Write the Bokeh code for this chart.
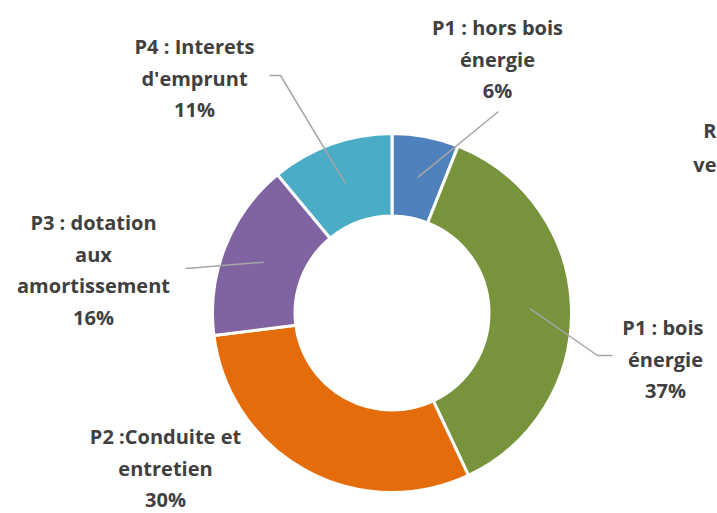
import numpy as np
from bokeh.plotting import figure
from bokeh.models import Range1d, ColumnDataSource
from bokeh.core.properties import value
from bokeh.embed import file_html
from bokeh.resources import INLINE

# ---- data ----
categories = ["P1 : hors bois énergie", "P1 :  bois énergie", "P2 :Conduite et entretien",
              "P3 : dotation aux amortissement", "P4 : Interets d'emprunt"]
shares = [6, 37, 30, 16, 11]
label_lines = [["P1 : hors bois", "énergie"],
               ["P1 :  bois", "énergie"],
               ["P2 :Conduite et", "entretien"],
               ["P3 : dotation", "aux", "amortissement"],
               ["P4 : Interets", "d'emprunt"]]
colors = ["#4F81BD", "#77933C", "#E46C0A", "#8064A2", "#4BACC6"]
clipped_title = ["R", "ve"]   # partly visible text at the right edge

# ---- layout (reference pixel coordinates, y downwards) ----
W, H = 717, 513
CX, CY = 391.5, 312.5
R_OUT, R_IN = 179.5, 97
label_anchor = [(497, 27), (665, 327), (165, 436), (93, 222), (194, 46)]
leader_tail = [[(498, 111)], [(597, 355), (612, 355)], None,
               [(198, 267), (185, 268)], [(280, 75), (269, 75)]]
LINE_H = 31.5
title_y = [130, 164]

def fy(y):
    return H - y

p = figure(width=W, height=H, output_backend="svg", toolbar_location=None,
           x_range=Range1d(0, W), y_range=Range1d(0, H),
           min_border=0)
p.axis.visible = False
p.grid.visible = False
p.outline_line_color = None
p.background_fill_color = "white"
p.border_fill_color = "white"

total = float(sum(shares))
cum = np.concatenate([[0], np.cumsum(shares)]) / total
start = np.pi / 2 - 2 * np.pi * cum[1:]
end = np.pi / 2 - 2 * np.pi * cum[:-1]
src = ColumnDataSource(dict(x=[CX] * len(shares), y=[fy(CY)] * len(shares),
                            start=start, end=end, color=colors, cat=categories))
p.annular_wedge(x="x", y="y", inner_radius=R_IN, outer_radius=R_OUT,
                start_angle="start", end_angle="end", direction="anticlock",
                fill_color="color", line_color="white", line_width=3, source=src)

# leader lines
mid = (start + end) / 2
for i, tail in enumerate(leader_tail):
    if tail is None:
        continue
    sx = CX + 138 * np.cos(mid[i])
    sy = fy(CY) + 138 * np.sin(mid[i])
    xs = [sx] + [t[0] for t in tail]
    ys = [sy] + [fy(t[1]) for t in tail]
    p.line(xs, ys, line_color="#A6A6A6", line_width=1.5)

# labels
tx, ty, tt = [], [], []
for i, lines in enumerate(label_lines):
    ax, ay = label_anchor[i]
    all_lines = lines + [f"{shares[i]}%"]
    for k, s in enumerate(all_lines):
        tx.append(ax)
        ty.append(fy(ay + k * LINE_H))
        tt.append(s)
p.text(x=tx, y=ty, text=tt, text_font=value("Open Sans"), text_font_style="bold",
       text_font_size="20px", text_color="#404040", text_align="center",
       text_baseline="middle")

p.text(x=[W - 1] * len(clipped_title), y=[fy(v) for v in title_y], text=clipped_title,
       text_font=value("Open Sans"), text_font_style="bold", text_font_size="20px",
       text_color="#404040", text_align="right", text_baseline="middle")

open("out.html", "w").write(file_html(p, INLINE))
